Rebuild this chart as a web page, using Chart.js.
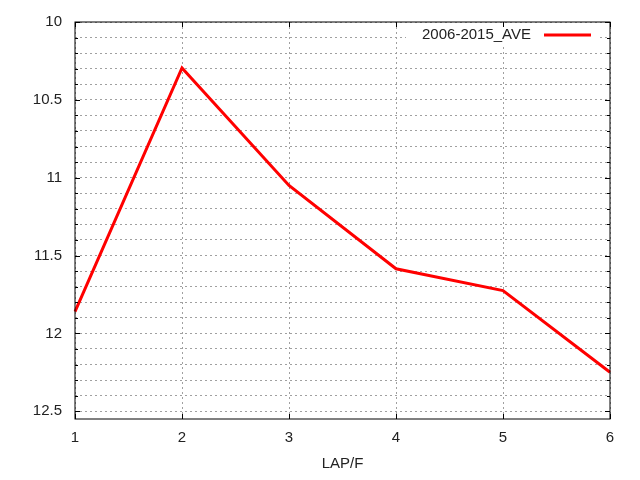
<!DOCTYPE html>
<html>
<head>
<meta charset="utf-8">
<script src="https://cdn.jsdelivr.net/npm/chart.js@4"></script>
<style>
  html, body { margin: 0; padding: 0; background: #fff; }
  #box { width: 640px; height: 480px; }
</style>
</head>
<body>
<div id="box"><canvas id="grafico"></canvas></div>
<script>
const laps = ['1', '2', '3', '4', '5', '6'];
const ave = [11.86, 10.295, 11.05, 11.585, 11.725, 12.25];
const serieNome = '2006-2015_AVE';
const eixoX = 'LAP/F';

const fonte = { family: 'Liberation Sans', size: 15 };
const corTexto = '#222';
const grade = { color: '#a0a0a0', lineWidth: 1, drawTicks: false };
const tracejado = [2, 3];

// gnuplot style key: text, then a short line, on a white patch
const legendaGnuplot = {
    id: 'legendaGnuplot',
    beforeDatasetsDraw(chart) {
        const ctx = chart.ctx;
        const ds = chart.data.datasets[0];
        const area = chart.chartArea;
        const yMeio = area.top + 13;
        const fimLinha = area.right - 19;
        ctx.save();
        ctx.fillStyle = '#fff';
        ctx.fillRect(area.right - 204, area.top + 3, 192, 22);
        ctx.font = `${fonte.size}px ${fonte.family}`;
        ctx.fillStyle = corTexto;
        ctx.textAlign = 'right';
        ctx.textBaseline = 'middle';
        ctx.fillText(ds.label, fimLinha - 60, yMeio);
        ctx.strokeStyle = ds.borderColor;
        ctx.lineWidth = ds.borderWidth;
        ctx.beginPath();
        ctx.moveTo(fimLinha - 47, yMeio);
        ctx.lineTo(fimLinha, yMeio);
        ctx.stroke();
        ctx.restore();
    },
    afterDatasetsDraw(chart) {
        const { left, top, right, bottom, width, height } = chart.chartArea;
        const ctx = chart.ctx;
        ctx.save();
        ctx.strokeStyle = '#000';
        ctx.lineWidth = 1;
        ctx.beginPath();
        // marcas para dentro, como no gnuplot
        chart.scales.y.ticks.forEach(t => {
            const y = Math.round(chart.scales.y.getPixelForValue(t.value)) + 0.5;
            const len = t.label ? 5 : 3;
            ctx.moveTo(left, y); ctx.lineTo(left + len, y);
            ctx.moveTo(right, y); ctx.lineTo(right - len, y);
        });
        chart.scales.x.ticks.forEach((t, i) => {
            const x = Math.round(chart.scales.x.getPixelForTick(i)) + 0.5;
            ctx.moveTo(x, bottom); ctx.lineTo(x, bottom - 5);
            ctx.moveTo(x, top); ctx.lineTo(x, top + 5);
        });
        ctx.stroke();
        ctx.strokeRect(left, top, width, height);
        ctx.restore();
    }
};

new Chart(document.getElementById('grafico'), {
    type: 'line',
    data: {
        labels: laps,
        datasets: [{
            label: serieNome,
            data: ave,
            borderColor: '#ff0000',
            borderWidth: 3,
            pointRadius: 0,
            tension: 0,
            fill: false
        }]
    },
    options: {
        responsive: true,
        maintainAspectRatio: false,
        animation: false,
        layout: { padding: { top: 20, right: 30, left: 0, bottom: 0 } },
        plugins: {
            legend: { display: false },
            tooltip: { enabled: false }
        },
        scales: {
            x: {
                offset: false,
                grid: grade,
                border: { display: false, dash: tracejado },
                ticks: { font: fonte, color: corTexto, padding: 10, maxRotation: 0 },
                title: { display: true, text: eixoX, font: fonte, color: corTexto, padding: { top: 0, bottom: 7 } },
                afterFit(scale) { scale.height = 61; }
            },
            y: {
                reverse: true,
                min: 10,
                max: 12.55,
                grid: grade,
                border: { display: false, dash: tracejado },
                ticks: {
                    stepSize: 0.1,
                    includeBounds: false,
                    autoSkip: false,
                    font: fonte,
                    color: corTexto,
                    padding: 13,
                    callback(v) {
                        const d = v * 2;
                        return Math.abs(d - Math.round(d)) < 1e-6 ? String(Math.round(d) / 2) : '';
                    }
                },
                afterFit(scale) { scale.width = 75; }
            }
        }
    },
    plugins: [legendaGnuplot]
});
</script>
</body>
</html>
